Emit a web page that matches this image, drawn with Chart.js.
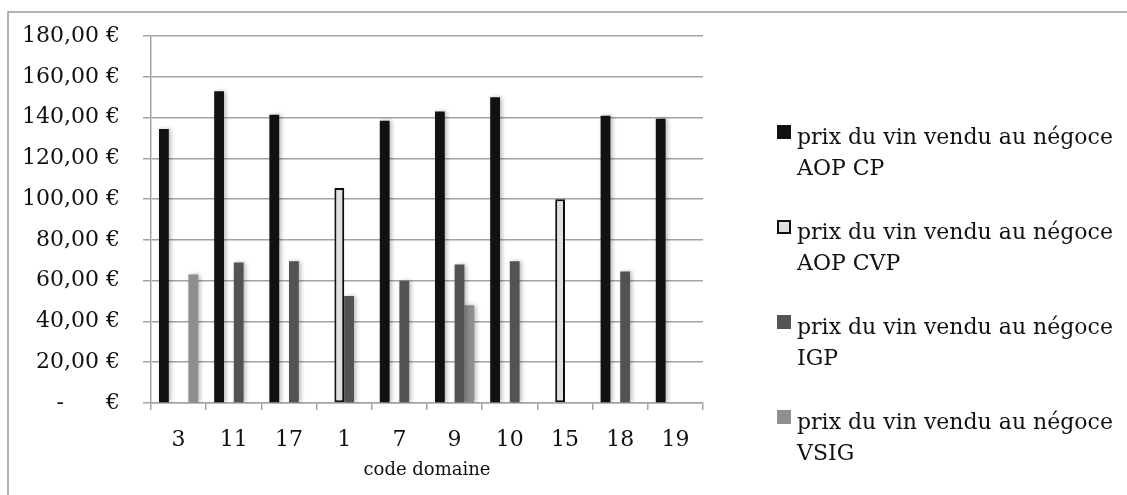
<!DOCTYPE html>
<html lang="fr">
<head>
<meta charset="utf-8">
<title>Prix du vin vendu au négoce par domaine</title>
<script src="https://cdn.jsdelivr.net/npm/chart.js@4.4.1/dist/chart.umd.min.js"></script>
<style>
  html, body { margin: 0; padding: 0; background: #ffffff; }
  canvas { display: block; }
</style>
</head>
<body>
<canvas id="chart" width="1127" height="495"></canvas>
<script>
// Codes des domaines (axe horizontal)
const categories = ['3', '11', '17', '1', '7', '9', '10', '15', '18', '19'];

// Prix (€) par catégorie de vin ; null = pas de vente au négoce
const prixAopCp  = [134.5, 153, 141.5, null, 138.5, 143, 150, null, 141, 139.5];
const prixAopCvp = [null, null, null, 105.5, null, null, null, 100, null, null];
const prixIgp    = [null, 69, 69.5, 52.5, 60, 68, 69.5, null, 64.5, null];
const prixVsig   = [63, null, null, null, null, 48, null, null, null, null];

// Libellés des séries (deux lignes dans la légende)
const labelAopCp  = ['prix du vin vendu au négoce', 'AOP CP'];
const labelAopCvp = ['prix du vin vendu au négoce', 'AOP CVP'];
const labelIgp    = ['prix du vin vendu au négoce', 'IGP'];
const labelVsig   = ['prix du vin vendu au négoce', 'VSIG'];

// Graduations de l'axe des prix
const yTicks = [0, 20, 40, 60, 80, 100, 120, 140, 160, 180];
const xTitle = 'code domaine';

const FONT = '"DejaVu Serif", "Liberation Serif", serif';
const GRID = '#a3a3a3';
const INK = '#111111';

function euro(v) {
  if (v === 0) return '-      €';
  return v.toFixed(2).replace('.', ',') + ' €';
}

// Cadre gris autour du graphique
const framePlugin = {
  id: 'frame',
  beforeDraw(chart) {
    const ctx = chart.ctx;
    ctx.save();
    ctx.fillStyle = '#ffffff';
    ctx.fillRect(0, 0, chart.width, chart.height);
    ctx.strokeStyle = '#9a9a9a';
    ctx.lineWidth = 1.5;
    ctx.strokeRect(8, 12, chart.width + 20, chart.height + 20);
    ctx.restore();
  }
};

// Légère ombre portée sous les barres
const shadowPlugin = {
  id: 'barShadow',
  beforeDatasetsDraw(chart) {
    const ctx = chart.ctx;
    ctx.save();
    ctx.shadowColor = 'rgba(0,0,0,0.28)';
    ctx.shadowBlur = 4;
    ctx.shadowOffsetX = 2;
    ctx.shadowOffsetY = 0;
  },
  afterDatasetsDraw(chart) {
    chart.ctx.restore();
  }
};

// Légende à droite, libellés sur deux lignes
const legendPlugin = {
  id: 'sideLegend',
  afterDraw(chart) {
    const ctx = chart.ctx;
    const boxX = 777, textX = 797, firstTop = 125, step = 95, box = 14;
    ctx.save();
    ctx.font = '22px ' + FONT;
    ctx.textBaseline = 'alphabetic';
    ctx.textAlign = 'left';
    chart.data.datasets.forEach((ds, i) => {
      const top = firstTop + i * step;
      ctx.fillStyle = ds.backgroundColor;
      ctx.fillRect(boxX, top, box, box);
      if (ds.borderWidth) {
        ctx.strokeStyle = ds.borderColor;
        ctx.lineWidth = 2;
        ctx.strokeRect(boxX + 1, top + 1, box - 2, box - 2);
      }
      ctx.fillStyle = INK;
      ds.legendLines.forEach((line, j) => {
        ctx.fillText(line, textX, top + 19 + j * 31);
      });
    });
    ctx.restore();
  }
};

const datasets = [
  { label: labelAopCp.join(' '),  legendLines: labelAopCp,  data: prixAopCp,  backgroundColor: '#111111', borderWidth: 0 },
  { label: labelAopCvp.join(' '), legendLines: labelAopCvp, data: prixAopCvp, backgroundColor: '#e0e0e0', borderColor: '#111111', borderWidth: 2, borderSkipped: false },
  { label: labelIgp.join(' '),    legendLines: labelIgp,    data: prixIgp,    backgroundColor: '#535353', borderWidth: 0 },
  { label: labelVsig.join(' '),   legendLines: labelVsig,   data: prixVsig,   backgroundColor: '#8e8e8e', borderWidth: 0 }
];

new Chart(document.getElementById('chart'), {
  type: 'bar',
  data: { labels: categories, datasets },
  options: {
    responsive: false,
    devicePixelRatio: 1,
    animation: false,
    layout: { padding: { left: 8, top: 33, right: 424, bottom: 0 } },
    datasets: { bar: { categoryPercentage: 0.71, barPercentage: 1 } },
    plugins: { legend: { display: false }, tooltip: { enabled: false } },
    scales: {
      x: {
        offset: true,
        afterFit(scale) { scale.height = 92; },
        grid: { offset: true, drawOnChartArea: false, color: GRID, lineWidth: 1.5, tickLength: 7 },
        border: { color: GRID, width: 1.5 },
        ticks: { color: INK, font: { family: FONT, size: 22 }, padding: 17, maxRotation: 0 },
        title: { display: true, text: xTitle, color: INK, font: { family: FONT, size: 18 }, padding: { top: 0, bottom: 14 } }
      },
      y: {
        min: 0,
        max: 180,
        afterFit(scale) { scale.width = 143; },
        afterBuildTicks(scale) { scale.ticks = yTicks.map(v => ({ value: v })); },
        grid: { color: GRID, lineWidth: 1.5, tickLength: 8 },
        border: { color: GRID, width: 1.5 },
        ticks: { color: INK, font: { family: FONT, size: 22 }, padding: 23, callback: v => euro(v) }
      }
    }
  },
  plugins: [framePlugin, shadowPlugin, legendPlugin]
});
</script>
</body>
</html>
